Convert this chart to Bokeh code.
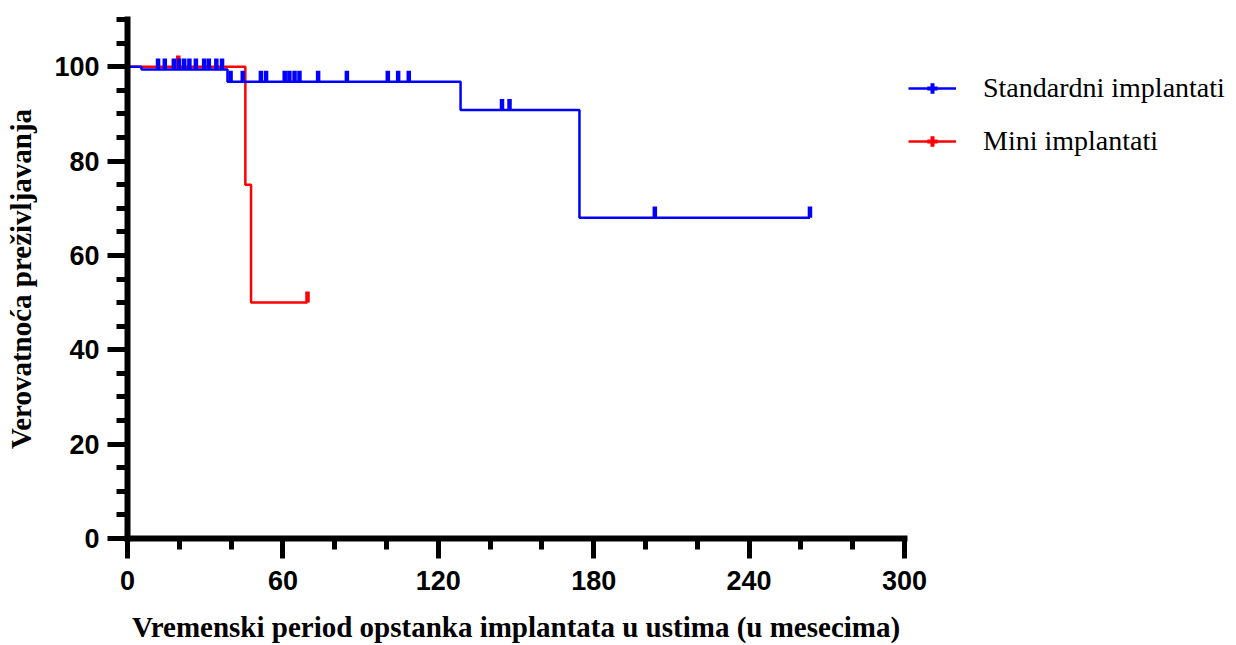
import numpy as np
from bokeh.plotting import figure
from bokeh.models import FixedTicker, Legend, LegendItem, Range1d
from bokeh.embed import file_html
from bokeh.resources import INLINE

# ---- data ----
std_time = [0, 5.4, 38.6, 128.6, 174.5, 263.5]
std_surv = [100, 99.4, 96.8, 90.8, 68.0, 68.0]
std_censor = [11.8, 14.4, 17.9, 19.9, 21.9, 23.9, 26.4, 29.6, 31.4, 34.3, 36.5,
              39.8, 44.5, 51.5, 53.5, 60.7, 62.5, 64.5, 66.4, 73.6, 84.7,
              100.5, 104.5, 108.6, 144.6, 147.5, 203.6, 263.5]

mini_time = [0, 45.5, 47.7, 69.5]
mini_surv = [100, 75.0, 50.0, 50.0]
mini_censor = [19.6, 69.5]

x_major = [0, 60, 120, 180, 240, 300]
x_minor = list(range(0, 301, 20))
y_major = [0, 20, 40, 60, 80, 100]
y_minor = list(range(0, 111, 5))

series_names = ["Standardni implantati", "Mini implantati"]
x_title = "Vremenski period opstanka implantata u ustima (u mesecima)"
y_title = "Verovatnoća preživljavanja"

BLUE = "#0000FF"
RED = "#FF0000"


def level_at(times, surv, t):
    i = np.searchsorted(np.array(times), t, side="right") - 1
    return np.array(surv)[i]


p = figure(frame_width=777, frame_height=519,
           x_range=Range1d(0, 300), y_range=Range1d(0, 110),
           output_backend="svg", toolbar_location=None,
           min_border_left=127, min_border_top=19,
           min_border_right=332, min_border_bottom=107)
p.outline_line_color = None
p.xgrid.visible = False
p.ygrid.visible = False
p.background_fill_color = "white"
p.border_fill_color = "white"

TICK_H = 2.35  # censor tick height in data units

# Mini (drawn first, below)
r_mini = p.step(mini_time, mini_surv, mode="after", line_color=RED, line_width=2.5)
m_lvl = level_at(mini_time, mini_surv, mini_censor)
p.segment(x0=mini_censor, x1=mini_censor, y0=m_lvl, y1=m_lvl + TICK_H,
          line_color=RED, line_width=4.5, line_cap="butt")

# Standard
r_std = p.step(std_time, std_surv, mode="after", line_color=BLUE, line_width=2.5)
s_lvl = level_at(std_time, std_surv, std_censor)
p.segment(x0=std_censor, x1=std_censor, y0=s_lvl, y1=s_lvl + TICK_H,
          line_color=BLUE, line_width=4.5, line_cap="butt")

# legend tick markers (not visible in plot)
lg_std = p.scatter(x=[-100], y=[-100], marker="cross",
                   line_color=BLUE, line_width=4, size=10)
lg_mini = p.scatter(x=[-100], y=[-100], marker="cross",
                    line_color=RED, line_width=4, size=10)

# axes
for ax in (p.xaxis[0], p.yaxis[0]):
    ax.axis_line_width = 6
    ax.axis_line_color = "black"
    ax.axis_line_cap = "square"
    ax.major_tick_line_width = 5
    ax.minor_tick_line_width = 5
    ax.major_tick_line_color = "black"
    ax.minor_tick_line_color = "black"
    ax.major_tick_in = 0
    ax.minor_tick_in = 0
    ax.major_tick_out = 20
    ax.minor_tick_out = 11
    ax.major_label_text_font = "Liberation Sans"
    ax.major_label_text_font_style = "bold"
    ax.major_label_text_font_size = "27px"
    ax.major_label_text_color = "black"
    ax.axis_label_text_font = "Liberation Serif"
    ax.axis_label_text_font_style = "bold"
    ax.axis_label_text_font_size = "29px"
    ax.axis_label_text_color = "black"

p.xaxis[0].ticker = FixedTicker(ticks=x_major, minor_ticks=x_minor)
p.yaxis[0].ticker = FixedTicker(ticks=y_major, minor_ticks=y_minor)
p.xaxis[0].axis_label = x_title
p.yaxis[0].axis_label = y_title
p.xaxis[0].major_label_standoff = 12
p.yaxis[0].major_label_standoff = 8
p.xaxis[0].axis_label_standoff = 18
p.yaxis[0].axis_label_standoff = 14

legend = Legend(items=[LegendItem(label=series_names[0], renderers=[r_std, lg_std]),
                       LegendItem(label=series_names[1], renderers=[r_mini, lg_mini])],
                location=(4, 381))
legend.glyph_width = 48
legend.glyph_height = 26
legend.label_standoff = 27
legend.spacing = 21
legend.padding = 0
legend.margin = 0
legend.border_line_alpha = 0
legend.background_fill_alpha = 0
legend.label_text_font = "Liberation Serif"
legend.label_text_font_size = "28px"
legend.label_text_color = "black"
legend.label_height = 32
p.add_layout(legend, "right")

open("out.html", "w").write(file_html(p, INLINE))
